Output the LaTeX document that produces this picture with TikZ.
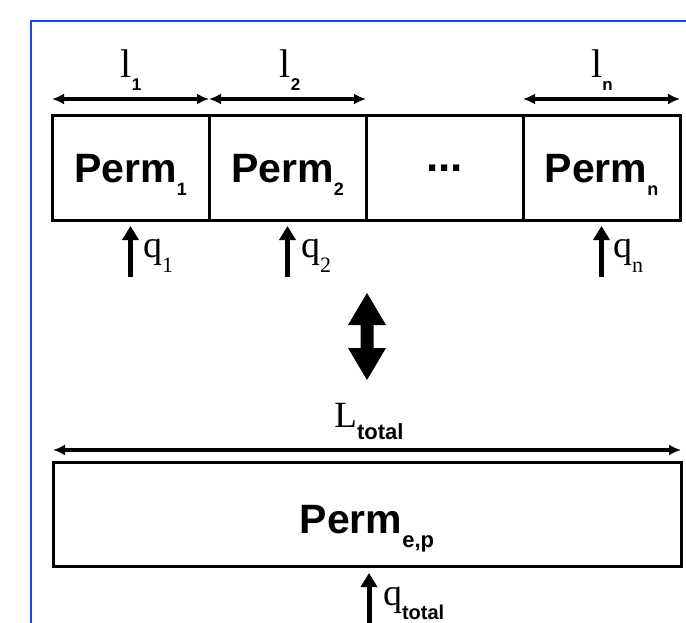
\documentclass[tikz,border=0pt]{standalone}
\usepackage{fontspec}
\setmainfont{Liberation Serif}
\setsansfont{Liberation Sans}
\usetikzlibrary{arrows.meta}
\definecolor{frameblue}{RGB}{30,70,230}
\newcommand\sbf[2]{{\fontsize{#1}{#1}\selectfont\sffamily\bfseries #2}}
\newcommand\srm[2]{{\fontsize{#1}{#1}\selectfont\rmfamily #2}}
\newcommand\dropsub[2]{\raisebox{-#1pt}{#2}}
\begin{document}
\begin{tikzpicture}[x=1pt,y=-1pt,
  permbox/.style={draw, line width=3pt, minimum width=157pt, minimum height=105pt,
    inner sep=0pt, outer sep=0pt, text height=28pt, text depth=0pt, anchor=north west},
  dimarrow/.style={line width=3.2pt, {Latex[length=12pt,width=11pt]}-{Latex[length=12pt,width=11pt]}},
  qarrow/.style={line width=5pt, -{Triangle[length=14pt,width=16pt]}},
  lbl/.style={inner sep=0pt, outer sep=0pt, anchor=base},
  qlbl/.style={inner sep=0pt, outer sep=0pt, anchor=base west}]
\useasboundingbox (0,0) rectangle (686,623);
\fill[white] (0,0) rectangle (686,623);
\draw[frameblue, line width=2pt] (31,623) -- (31,21) -- (686,21);

% top boxes
\node[permbox] (p1) at (52,116) {\sbf{41}{Perm}\dropsub{13}{\sbf{18}{1}}};
\node[permbox] (p2) at (209,116) {\sbf{41}{Perm}\dropsub{13}{\sbf{18}{2}}};
\node[permbox, text height=6pt] (pd) at (366,116) {\sbf{44}{...}};
\node[permbox] (pn) at (523,116) {\sbf{41}{Perm}\dropsub{13}{\sbf{18}{n}}};

% length arrows
\draw[dimarrow] ([yshift=17pt]p1.north west) -- ([yshift=17pt]p1.north east);
\draw[dimarrow] ([yshift=17pt]p2.north west) -- ([yshift=17pt]p2.north east);
\draw[dimarrow] ([yshift=17pt]pn.north west) -- ([yshift=17pt]pn.north east);
\node[lbl] (l1) at (131,78) {\srm{40}{l}\dropsub{13}{\sbf{17}{1}}};
\node[lbl] (l2) at (290,78) {\srm{40}{l}\dropsub{13}{\sbf{17}{2}}};
\node[lbl] (ln) at (602,78) {\srm{40}{l}\dropsub{13}{\sbf{17}{n}}};

% flow arrows top
\coordinate (qs1) at (130.5,277);
\coordinate (qs2) at (287.5,277);
\coordinate (qsn) at (601.5,277);
\draw[qarrow] (qs1) -- ([yshift=-5pt]p1.south);
\draw[qarrow] (qs2) -- ([yshift=-5pt]p2.south);
\draw[qarrow] (qsn) -- ([yshift=-5pt]pn.south);
\node[qlbl] (q1) at (143,258) {\srm{38}{q}\dropsub{14}{\srm{22}{1}}};
\node[qlbl] (q2) at (301,258) {\srm{38}{q}\dropsub{14}{\srm{22}{2}}};
\node[qlbl] (qn) at (613,258) {\srm{38}{q}\dropsub{14}{\srm{22}{n}}};

% equivalence double arrow
\fill (367,293) -- (386,325) -- (373.5,325) -- (373.5,348) -- (386,348) -- (367,380)
  -- (348,348) -- (360.5,348) -- (360.5,325) -- (348,325) -- cycle;

% bottom box
\node[permbox, minimum width=628pt, minimum height=104pt, text height=38pt] (pep) at (53,462)
  {\sbf{41}{Perm}\dropsub{14}{\sbf{22}{e,p}}};
\draw[dimarrow] ([yshift=12pt]pep.north west) -- ([yshift=12pt]pep.north east);
\node[lbl] (Lt) at (369,427) {\srm{37}{L}\dropsub{12}{\sbf{22}{total}}};

\coordinate (qst) at (369,630);
\draw[qarrow] (qst) -- ([xshift=2pt,yshift=-7pt]pep.south);
\node[qlbl] (qt) at (383,605) {\srm{38}{q}\dropsub{14}{\sbf{20}{total}}};
\end{tikzpicture}
\end{document}
